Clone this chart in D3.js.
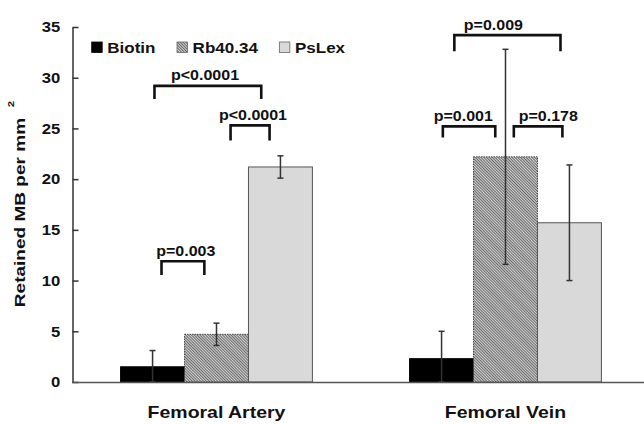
<!DOCTYPE html>
<html>
<head>
<meta charset="utf-8">
<script src="https://cdn.jsdelivr.net/npm/d3@7"></script>
<style>
  body { margin: 0; background: #fff; }
  svg text { font-family: Arial, "Liberation Sans", sans-serif; font-weight: bold; fill: #111; }
</style>
</head>
<body>
<div id="chart"></div>
<script>
var categories = ['Femoral Artery', 'Femoral Vein'];
var series = ['Biotin', 'Rb40.34', 'PsLex'];
// mean and error per category, in series order
var means = [[1.5, 4.7, 21.2], [2.3, 22.2, 15.7]];
var errors = [[1.6, 1.1, 1.1], [2.7, 10.6, 5.7]];
var yTicks = [0, 5, 10, 15, 20, 25, 30, 35];
// significance brackets: span in bar widths from the group start, top and foot in data units
var brackets = [
  {group: 0, from: 0.53, to: 2.20, top: 29.2, foot: 27.9, label: 'p<0.0001', at: 1.32},
  {group: 0, from: 1.72, to: 2.33, top: 25.3, foot: 23.8, label: 'p<0.0001', at: 2.07},
  {group: 0, from: 0.64, to: 1.31, top: 11.9, foot: 10.55, label: 'p=0.003', at: 1.02},
  {group: 1, from: 0.70, to: 2.36, top: 34.2, foot: 32.6, label: 'p=0.009', at: 1.31},
  {group: 1, from: 0.52, to: 1.34, top: 25.2, foot: 24.1, label: 'p=0.001', at: 0.84},
  {group: 1, from: 1.63, to: 2.39, top: 25.2, foot: 24.1, label: 'p=0.178', at: 2.17}
];

var width = 644, height = 424;
var stretch = 1.12; // the type in the figure is a little wide

var svg = d3.select('#chart').append('svg')
  .attr('width', width)
  .attr('height', height);

var defs = svg.append('defs');
var hatch = defs.append('pattern')
  .attr('id', 'hatch')
  .attr('patternUnits', 'userSpaceOnUse')
  .attr('width', 2).attr('height', 2)
  .attr('patternTransform', 'rotate(45)');
hatch.append('rect').attr('width', 2).attr('height', 2).attr('fill', '#d2d2d2');
hatch.append('line').attr('x1', 0).attr('x2', 2).attr('y1', 0.5).attr('y2', 0.5)
  .attr('stroke', '#6a6a6a').attr('stroke-width', 1);

var fills = {'Biotin': '#000', 'Rb40.34': 'url(#hatch)', 'PsLex': '#d9d9d9'};
var strokes = {'Biotin': '#000', 'Rb40.34': '#444', 'PsLex': '#555'};

var y = d3.scaleLinear().domain([0, 35]).range([382, 27]);
var x0 = d3.scaleBand().domain(categories).range([72, 650]);
var x1 = d3.scaleBand().domain(series).range([0, x0.bandwidth()])
  .paddingInner(0).paddingOuter(0.76);

function wide(sel, s) {
  sel.each(function() {
    var t = d3.select(this);
    var tx = +t.attr('x') || 0, ty = +t.attr('y') || 0;
    t.attr('x', null).attr('y', null)
      .attr('transform', 'translate(' + tx + ',' + ty + ') scale(' + s + ',1)');
  });
}

// y axis, ticks point inward
var yAxis = d3.axisLeft(y).tickValues(yTicks).tickSizeInner(-6).tickSizeOuter(0).tickPadding(11);
var gy = svg.append('g').attr('transform', 'translate(72.5,0)').call(yAxis);
gy.select('.domain').attr('stroke', '#333').attr('stroke-width', 1.5);
gy.selectAll('.tick line').attr('stroke', '#333').attr('stroke-width', 1.5);
gy.selectAll('.tick text').attr('font-size', 14.9).attr('fill', '#111')
  .attr('font-family', null).attr('transform', 'scale(' + stretch + ',1)');

// bars
var groups = svg.selectAll('.group').data(categories).enter().append('g')
  .attr('class', 'group')
  .attr('transform', function(d) { return 'translate(' + x0(d) + ',0)'; });

function rows(d, i) {
  return series.map(function(s, j) { return {s: s, v: means[i][j], e: errors[i][j]}; });
}

groups.selectAll('rect').data(rows).enter().append('rect')
  .attr('x', function(d) { return x1(d.s); })
  .attr('y', function(d) { return y(d.v); })
  .attr('width', x1.bandwidth())
  .attr('height', function(d) { return y(0) - y(d.v); })
  .attr('fill', function(d) { return fills[d.s]; })
  .attr('stroke', function(d) { return strokes[d.s]; })
  .attr('stroke-width', 1)
  .attr('stroke-dasharray', function(d) { return d.s === 'Rb40.34' ? '1.5,1' : null; });

// error bars, lower end stops at zero
var eb = groups.selectAll('.err').data(rows).enter().append('g').attr('class', 'err')
  .attr('stroke', '#333')
  .attr('stroke-width', 1.5);
eb.append('line')
  .attr('x1', function(d) { return x1(d.s) + x1.bandwidth() / 2; })
  .attr('x2', function(d) { return x1(d.s) + x1.bandwidth() / 2; })
  .attr('y1', function(d) { return y(Math.max(0, d.v - d.e)); })
  .attr('y2', function(d) { return y(d.v + d.e); });
eb.selectAll('.cap').data(function(d) {
  return [Math.max(0, d.v - d.e), d.v + d.e].map(function(v) { return {s: d.s, v: v}; });
}).enter().append('line')
  .attr('x1', function(d) { return x1(d.s) + x1.bandwidth() / 2 - 3; })
  .attr('x2', function(d) { return x1(d.s) + x1.bandwidth() / 2 + 3; })
  .attr('y1', function(d) { return y(d.v); })
  .attr('y2', function(d) { return y(d.v); });

// baseline
svg.append('line')
  .attr('x1', 72).attr('x2', width)
  .attr('y1', y(0) + 0.5).attr('y2', y(0) + 0.5)
  .attr('stroke', '#555').attr('stroke-width', 1.5);

// significance brackets
var step = x1.step();
var gb = svg.selectAll('.bracket').data(brackets).enter().append('g')
  .attr('class', 'bracket')
  .attr('transform', function(d) { return 'translate(' + (x0(categories[d.group]) + x1(series[0])) + ',0)'; });
gb.append('path')
  .attr('d', function(d) {
    return 'M' + d.from * step + ',' + y(d.foot) + 'V' + y(d.top) +
      'H' + d.to * step + 'V' + y(d.foot);
  })
  .attr('fill', 'none').attr('stroke', '#111').attr('stroke-width', 2.6);
gb.append('text')
  .attr('x', function(d) { return d.at * step; })
  .attr('y', function(d) { return y(d.top) - 5.5; })
  .attr('text-anchor', 'middle')
  .attr('font-size', 14.3)
  .text(function(d) { return d.label; })
  .call(wide, stretch);

// category labels
svg.selectAll('.cat').data(categories).enter().append('text')
  .attr('class', 'cat')
  .attr('x', function(d) { return x0(d) + x0.bandwidth() / 2; })
  .attr('y', 418)
  .attr('text-anchor', 'middle')
  .attr('font-size', 17.4)
  .text(function(d) { return d; })
  .call(wide, stretch);

// y label with superscript
var yl = svg.append('text')
  .attr('transform', 'translate(25,204) rotate(-90) scale(1.27,1)')
  .attr('text-anchor', 'middle')
  .attr('font-size', 15);
yl.append('tspan').text('Retained MB per mm');
yl.append('tspan').attr('dx', 8.5).attr('dy', -11).attr('font-size', 9).text('2');

// legend
var lx = 91.7;
series.forEach(function(s) {
  svg.append('rect')
    .attr('x', lx).attr('y', 42)
    .attr('width', 10.5).attr('height', 10.5)
    .attr('fill', fills[s])
    .attr('stroke', s === 'Biotin' ? '#000' : '#666')
    .attr('stroke-width', 0.8);
  var t = svg.append('text')
    .attr('x', lx + 15.6).attr('y', 53)
    .attr('font-size', 15.2)
    .text(s);
  var w = t.node().getComputedTextLength() * stretch;
  t.call(wide, stretch);
  lx += 15.6 + w + 21.5;
});
</script>
</body>
</html>
